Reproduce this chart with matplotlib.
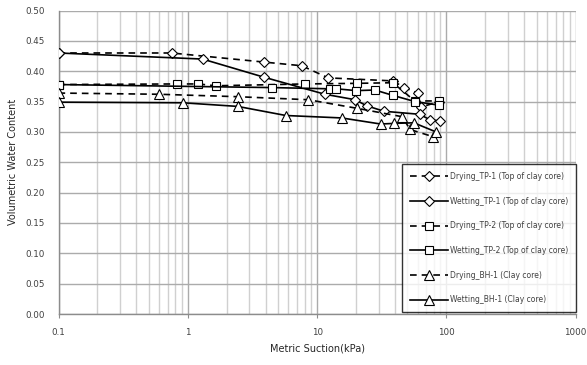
import matplotlib
matplotlib.use("Agg")
import matplotlib.pyplot as plt
from matplotlib.ticker import FixedLocator, NullFormatter, LogLocator

plt.rcParams['font.family'] = ['DejaVu Sans']

# Matric suction (kPa) and volumetric water content for each test series
drying_tp1_x = [0.1, 0.75, 3.9, 7.6, 12.2, 38.8, 47, 60, 64, 88]
drying_tp1_y = [0.430, 0.430, 0.415, 0.409, 0.389, 0.384, 0.373, 0.364, 0.341, 0.350]

wetting_tp1_x = [0.1, 1.3, 3.9, 11.5, 19.7, 24.2, 32.9, 62, 74.6, 90]
wetting_tp1_y = [0.430, 0.420, 0.390, 0.362, 0.353, 0.343, 0.334, 0.329, 0.320, 0.318]

drying_tp2_x = [0.1, 0.82, 1.2, 1.65, 8.0, 20.5, 38.5, 57, 88]
drying_tp2_y = [0.378, 0.379, 0.379, 0.376, 0.379, 0.380, 0.381, 0.351, 0.351]

wetting_tp2_x = [0.1, 4.5, 12.5, 14.1, 20, 28, 38.8, 57, 88]
wetting_tp2_y = [0.378, 0.373, 0.371, 0.371, 0.368, 0.369, 0.360, 0.350, 0.344]

drying_bh1_x = [0.1, 0.6, 2.43, 8.55, 20.2, 45.6, 52.3, 79]
drying_bh1_y = [0.364, 0.362, 0.358, 0.353, 0.339, 0.325, 0.304, 0.292]

wetting_bh1_x = [0.1, 0.91, 2.43, 5.74, 15.5, 31, 39.4, 56, 83]
wetting_bh1_y = [0.349, 0.348, 0.342, 0.327, 0.323, 0.313, 0.314, 0.315, 0.300]

labels = [
    "Drying_TP-1 (Top of clay core)",
    "Wetting_TP-1 (Top of clay core)",
    "Drying_TP-2 (Top of clay core)",
    "Wetting_TP-2 (Top of clay core)",
    "Drying_BH-1 (Clay core)",
    "Wetting_BH-1 (Clay core)",
]

dash = (0, (4, 3))
series = [
    (drying_tp1_x, drying_tp1_y, dash, "D", 4.8),
    (wetting_tp1_x, wetting_tp1_y, "-", "D", 4.8),
    (drying_tp2_x, drying_tp2_y, dash, "s", 5.2),
    (wetting_tp2_x, wetting_tp2_y, "-", "s", 5.2),
    (drying_bh1_x, drying_bh1_y, dash, "^", 7),
    (wetting_bh1_x, wetting_bh1_y, "-", "^", 7),
]

fig = plt.figure(figsize=(5.87, 3.65), dpi=100)
ax = fig.add_axes([58.5 / 587, 1 - 314 / 365, 517.2 / 587, 303.5 / 365])

for (xs, ys, ls, mk, ms), lab in zip(series, labels):
    ax.plot(xs, ys, color="black", linestyle=ls, linewidth=1.2,
            marker=mk, markersize=ms,
            markerfacecolor="white", markeredgecolor="black",
            markeredgewidth=0.8, label=lab, zorder=3)

ax.set_xscale("log")
ax.set_xlim(0.1, 1000)
ax.set_ylim(0.0, 0.5)

ax.xaxis.set_major_locator(FixedLocator([0.1, 1, 10, 100, 1000]))
ax.xaxis.set_minor_locator(LogLocator(base=10, subs=range(2, 10)))
ax.xaxis.set_minor_formatter(NullFormatter())
ax.set_xticklabels(["0.1", "1", "10", "100", "1000"])
ax.set_yticks([i * 0.05 for i in range(11)])
ax.set_yticklabels([f"{i * 0.05:.2f}" for i in range(11)])

ax.grid(True, which="major", color="#ababab", linewidth=1.0, zorder=0)
ax.grid(True, which="minor", axis="x", color="#d0d0d0", linewidth=1.0, zorder=0)

for side in ["top", "right"]:
    ax.spines[side].set_visible(False)
for side in ["left", "bottom"]:
    ax.spines[side].set_color("#8c8c8c")
    ax.spines[side].set_linewidth(1.0)

ax.tick_params(axis="x", which="major", direction="out", length=3,
               color="#8c8c8c", labelsize=6.3, labelcolor="#404040", pad=7)
ax.tick_params(axis="x", which="minor", length=0)
ax.tick_params(axis="y", length=0, labelsize=6.3, labelcolor="#404040", pad=10)

ax.set_xlabel("Metric Suction(kPa)", fontsize=7, color="#262626", labelpad=5)
ax.set_ylabel("Volumetric Water Content", fontsize=7, color="#262626", labelpad=5)

leg = ax.legend(loc="lower right", bbox_to_anchor=(1.0, 0.007, 0.0, 0.0),
                fontsize=5.5, frameon=True, fancybox=False, borderpad=1.0,
                labelspacing=2.05, handlelength=5.0, handletextpad=0.2,
                borderaxespad=0.0)
leg.get_frame().set_edgecolor("black")
leg.get_frame().set_linewidth(1.0)
for t in leg.get_texts():
    t.set_color("#404040")

fig.savefig("out.png", dpi=100)
